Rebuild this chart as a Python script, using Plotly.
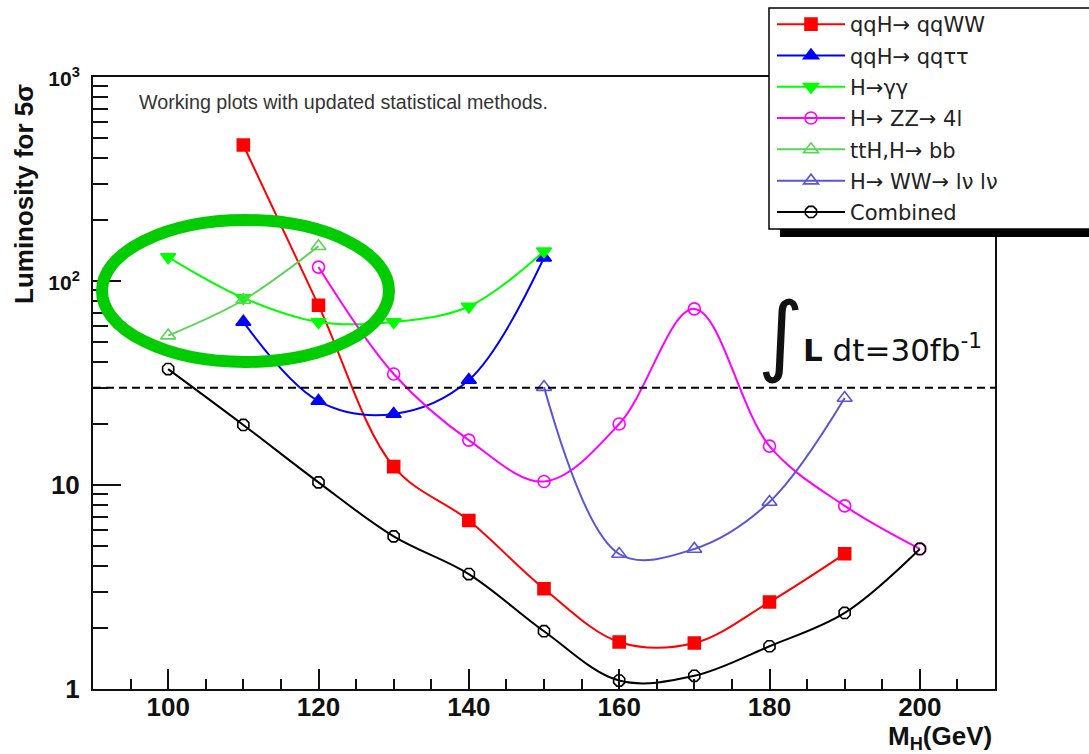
import plotly.graph_objects as go

# ---------------- data ----------------
mass = [100, 110, 120, 130, 140, 150, 160, 170, 180, 190, 200]

qqWW_x = [110, 120, 130, 140, 150, 160, 170, 180, 190]
qqWW_y = [464, 76, 12.3, 6.7, 3.1, 1.7, 1.68, 2.67, 4.6]

qqtt_x = [110, 120, 130, 140, 150]
qqtt_y = [63, 25.8, 22.3, 32.7, 130]

gg_x = [100, 110, 120, 130, 140, 150]
gg_y = [131, 82.6, 63, 63, 75, 140]

zz_x = [120, 130, 140, 150, 160, 170, 180, 190, 200]
zz_y = [117, 35, 16.6, 10.4, 19.9, 73, 15.5, 7.9, 4.86]

tth_x = [100, 110, 120]
tth_y = [54, 80.7, 148]

ww_x = [150, 160, 170, 180, 190]
ww_y = [30.2, 4.59, 4.86, 8.26, 26.7]

comb_x = mass
comb_y = [37, 19.7, 10.3, 5.6, 3.66, 1.92, 1.1, 1.16, 1.62, 2.36, 4.86]

LUMI_LINE = 30

x_major = [100, 120, 140, 160, 180, 200]
y_major = [1, 10, 100, 1000]
y_major_text = ["1", "10", "<span style='font-size:21px'>10<sup>2</sup></span>",
                "<span style='font-size:21px'>10<sup>3</sup></span>"]
y_minor = [m * 10 ** d for d in range(3) for m in range(2, 10)]

series = [
    ("qqH\u2192 qqWW", qqWW_x, qqWW_y, "#ff0000", "square", 12),
    ("qqH\u2192 qq\u03c4\u03c4", qqtt_x, qqtt_y, "#0000ff", "triangle-up", 13),
    ("H\u2192\u03b3\u03b3", gg_x, gg_y, "#00ff00", "triangle-down", 13),
    ("H\u2192 ZZ\u2192 4l", zz_x, zz_y, "#ff00ff", "circle-open", 12),
    ("ttH,H\u2192 bb", tth_x, tth_y, "#59d454", "triangle-up-open", 13),
    ("H\u2192 WW\u2192 l\u03bd l\u03bd", ww_x, ww_y, "#5954d9", "triangle-up-open", 13),
    ("Combined", comb_x, comb_y, "#000000", "octagon-open", 12),
]

W, H = 1089, 754
PL, PR, PT, PB = 93, 995, 77, 689


def px(x):
    return x / W


def py(y):
    return 1 - y / H


fig = go.Figure()
for i, (name, xs, ys, col, sym, sz) in enumerate(series):
    fig.add_trace(go.Scatter(
        x=xs, y=ys, name=name, mode="lines+markers",
        line=dict(color=col, width=2, shape="spline", smoothing=1),
        marker=dict(color=col, symbol=sym, size=sz, line=dict(color=col, width=1.6)),
        legendgroup=str(i),
    ))

font_family = "Liberation Sans, Arial, sans-serif"

fig.update_layout(
    width=W, height=H,
    margin=dict(l=0, r=0, t=0, b=0, autoexpand=False),
    paper_bgcolor="white", plot_bgcolor="white",
    font=dict(family=font_family, color="#111"),
    showlegend=True,
    legend=dict(x=px(772), y=py(4), xanchor="left", yanchor="top",
                bgcolor="rgba(0,0,0,0)", borderwidth=0,
                font=dict(size=21, color="#222", family="DejaVu Sans"),
                itemwidth=68, tracegroupgap=1),
    xaxis=dict(domain=[px(PL), px(PR)], range=[90, 210],
               showline=True, linecolor="#111", linewidth=2, mirror=True,
               showgrid=False, zeroline=False,
               tickmode="array", tickvals=x_major,
               ticks="inside", ticklen=20, tickwidth=2, tickcolor="#111",
               ticklabelstandoff=-6,
               tickfont=dict(size=26, weight="bold", color="#111"),
               minor=dict(dtick=5, ticks="inside", ticklen=10, tickwidth=2, tickcolor="#111")),
    yaxis=dict(domain=[py(PB), py(PT)], type="log", range=[0, 3],
               showline=True, linecolor="#111", linewidth=2, mirror=True,
               showgrid=False, zeroline=False,
               tickmode="array", tickvals=y_major, ticktext=y_major_text,
               ticks="inside", ticklen=28, tickwidth=2, tickcolor="#111",
               ticklabelstandoff=6,
               tickfont=dict(size=26, weight="bold", color="#111"),
               minor=dict(tickmode="array", tickvals=y_minor, ticks="inside",
                          ticklen=15, tickwidth=2, tickcolor="#111")),
)

# dashed 30 fb^-1 line
fig.add_shape(type="line", xref="x domain", yref="y", x0=0, x1=1,
              y0=LUMI_LINE, y1=LUMI_LINE,
              line=dict(color="black", width=2, dash="8px,5px"))

# green ellipse
fig.add_shape(type="circle", xref="paper", yref="paper",
              x0=px(102), x1=px(389), y0=py(362), y1=py(220),
              line=dict(color="#00cc00", width=12), layer="above")

# legend box with shadow
fig.add_shape(type="rect", xref="paper", yref="paper",
              x0=px(780), x1=1.02, y0=py(237), y1=py(14),
              fillcolor="black", line=dict(width=0), layer="above")
fig.add_shape(type="rect", xref="paper", yref="paper",
              x0=px(769), x1=1.02, y0=py(229), y1=py(8),
              fillcolor="white", line=dict(color="black", width=1.5), layer="above")

# texts
fig.add_annotation(text="Working plots with updated statistical methods.",
                   xref="paper", yref="paper", x=px(137), y=py(102),
                   xanchor="left", yanchor="middle", showarrow=False,
                   font=dict(size=19.7, color="#333"))
fig.add_annotation(text="\u222b", xref="paper", yref="paper", x=px(781), y=py(334),
                   xanchor="center", yanchor="middle", showarrow=False,
                   font=dict(size=88, color="#111", family="DejaVu Sans"))
fig.add_annotation(text="<b>L</b> dt=30fb<sup>-1</sup>", xref="paper", yref="paper",
                   x=px(801), y=py(348), xanchor="left", yanchor="middle", showarrow=False,
                   font=dict(size=31, color="#111", family="DejaVu Sans"))
fig.add_annotation(text="<b>Luminosity for 5\u03c3</b>", xref="paper", yref="paper",
                   x=px(24), y=py(194), textangle=-90, showarrow=False,
                   xanchor="center", yanchor="middle",
                   font=dict(size=26, color="#111"))
fig.add_annotation(text="<b>M<sub>H</sub>(GeV)</b>", xref="paper", yref="paper",
                   x=px(994), y=py(737), xanchor="right", yanchor="middle", showarrow=False,
                   font=dict(size=26, color="#111"))

fig.write_html("out.html")
